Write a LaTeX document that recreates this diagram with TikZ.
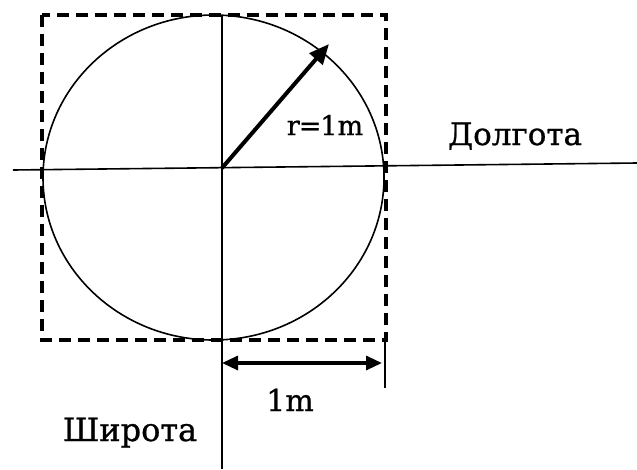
\documentclass[tikz,border=0pt]{standalone}
\usepackage{fontspec}
\setmainfont{DejaVu Serif}
\newfontfamily\lblfont{DejaVu Serif}[FakeBold=0.8]
\usetikzlibrary{arrows.meta}
\begin{document}
\begin{tikzpicture}[x=1pt,y=-1pt,
  thinline/.style={line width=1.6pt,black},
  dashbox/.style={line width=3.6pt,black,dash pattern=on 12pt off 7pt},
  bigarrow/.style={line width=4pt,-{Triangle[length=20pt,width=17pt]}},
  dimarrow/.style={line width=3.2pt,{Triangle[length=16pt,width=14pt]}-{Triangle[length=16pt,width=14pt]}},
  lbl/.style={inner sep=0pt,anchor=base}]
\useasboundingbox (0,0) rectangle (637,469);
\draw[dashbox] (42,15) rectangle (386,340);
\draw[thinline] (213.5,177.5) ellipse [x radius=170.5, y radius=162.5];
\coordinate (O) at (222,168);
\coordinate (HL) at (13,170);
\coordinate (HR) at (637,163);
\coordinate (VT) at (222,15);
\coordinate (VB) at (222,469);
\coordinate (R) at (329,44);
\coordinate (TT) at (385,340);
\coordinate (TB) at (385,388);
\coordinate (DL) at (222,363);
\coordinate (DR) at (382,363);
\draw[thinline] (HL) -- (HR);
\draw[thinline] (VT) -- (VB);
\draw[thinline] (TT) -- (TB);
\draw[bigarrow] (O) -- (R);
\draw[dimarrow] (DL) -- (DR);
\node[lbl,font=\lblfont\fontsize{27}{31}\selectfont] (rl) at (325,135) {r\kern-1pt=\kern-1pt1m};
\node[lbl,font=\lblfont\fontsize{31}{35}\selectfont] (dl) at (515,145) {Долгота};
\node[lbl,font=\lblfont\fontsize{30}{34}\selectfont] (ml) at (290,411) {1m};
\node[lbl,font=\lblfont\fontsize{32}{36}\selectfont] (sh) at (130,441) {Широта};
\end{tikzpicture}
\end{document}
